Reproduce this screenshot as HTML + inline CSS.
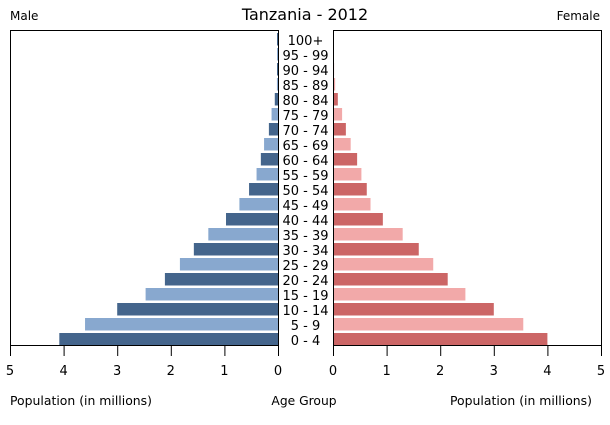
<!DOCTYPE html>
<html><head><meta charset="utf-8"><style>body{margin:0;background:#fff}svg{display:block}text{font-family:"DejaVu Sans","Liberation Sans",sans-serif;fill:#000}</style></head>
<body>
<svg width="610" height="425" xmlns="http://www.w3.org/2000/svg">
<rect width="610" height="425" fill="#fff"/>
<text x="305" y="20" font-size="16" text-anchor="middle">Tanzania - 2012</text>
<text x="10" y="20" font-size="12">Male</text>
<text x="600" y="20" font-size="12" text-anchor="end">Female</text>
<g id="bars"></g>
<path d="M10.5 345V30.5H278.5V345M333.5 345V30.5H601.5V345" fill="none" stroke="#000"/>
<path d="M10 345.5H279M333 345.5H602" stroke="#000"/>
<g id="ticks" stroke="#000"></g>
<g id="labels" font-size="13"></g>
<text x="10" y="405" font-size="12.3" textLength="142" lengthAdjust="spacingAndGlyphs">Population (in millions)</text>
<text x="304" y="405" font-size="12.3" text-anchor="middle">Age Group</text>
<text x="450" y="405" font-size="12.3" textLength="142" lengthAdjust="spacingAndGlyphs">Population (in millions)</text>
<script>
var m=[4.08,3.6,3.0,2.47,2.11,1.83,1.57,1.3,0.97,0.72,0.54,0.4,0.32,0.26,0.17,0.12,0.06,0.02,0.01,0.005,0.003];
var f=[4.0,3.55,3.0,2.47,2.14,1.87,1.6,1.3,0.93,0.7,0.63,0.53,0.45,0.33,0.24,0.17,0.09,0.04,0.02,0.01,0.005];
var ns="http://www.w3.org/2000/svg",s=53.6;
var b=document.getElementById("bars"),l=document.getElementById("labels"),t=document.getElementById("ticks");
function el(p,n,a,tx){var e=document.createElementNS(ns,n);for(var k in a)e.setAttribute(k,a[k]);if(tx)e.textContent=tx;p.appendChild(e);}
for(var i=0;i<21;i++){var y=333-15*i,d=i%2==0;
var wm=Math.max(1,m[i]*s),wf=Math.max(1,f[i]*s);
el(b,"rect",{x:278-wm,y:y,width:wm,height:12.5,fill:d?"#44658c":"#88a8cf"});
el(b,"rect",{x:333,y:y,width:wf,height:12.5,fill:d?"#cc6666":"#f2a9a9"});
var lab=i==20?"100+":(5*i)+" - "+(5*i+4);
el(l,"text",{x:305.5,y:y+12,"text-anchor":"middle"},lab);}
for(var j=0;j<=5;j++){var xl=278-j*s,xr=333+j*s;
el(t,"line",{x1:xl+0.5,x2:xl+0.5,y1:345,y2:356});el(t,"line",{x1:xr+0.5,x2:xr+0.5,y1:345,y2:356});
el(l,"text",{x:xl,y:375,"text-anchor":"middle"},""+j);el(l,"text",{x:xr,y:375,"text-anchor":"middle"},""+j);}
</script>
</svg>
</body></html>
